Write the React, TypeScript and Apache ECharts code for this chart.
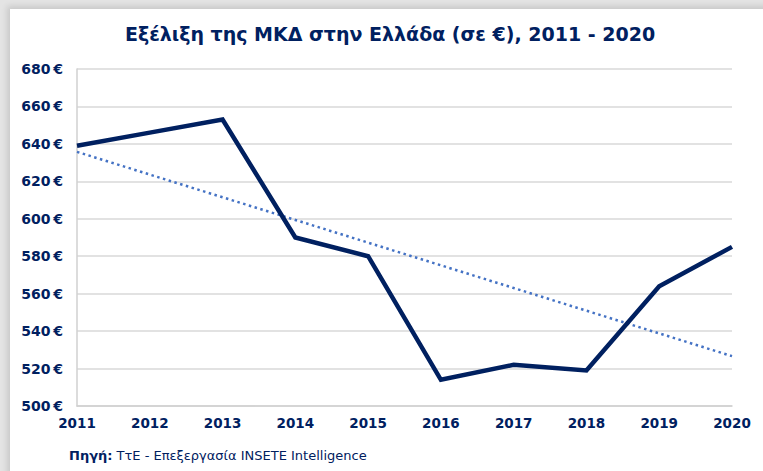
import React, { useEffect, useRef } from "react";
import * as echarts from "echarts";

const years = ["2011", "2012", "2013", "2014", "2015", "2016", "2017", "2018", "2019", "2020"];
const mkdValues = [639, 646, 653, 590, 580, 514, 522, 519, 564, 585];
const yTicks = { min: 500, max: 680, interval: 20 };

const titleText = "Εξέλιξη της ΜΚΔ στην Ελλάδα (σε €), 2011 - 2020";
const sourceLabel = "Πηγή:";
const sourceText = " ΤτΕ - Επεξεργασία INSETE Intelligence";

const NAVY = "#002060";

function linearTrend(values: number[]): number[] {
  const n = values.length;
  const mx = (n - 1) / 2;
  const my = values.reduce((a, b) => a + b, 0) / n;
  let sxy = 0;
  let sxx = 0;
  values.forEach((v, i) => {
    sxy += (i - mx) * (v - my);
    sxx += (i - mx) * (i - mx);
  });
  const slope = sxy / sxx;
  return values.map((_, i) => +(my + slope * (i - mx)).toFixed(2));
}

export default function App() {
  const ref = useRef<HTMLDivElement>(null);

  useEffect(() => {
    document.body.style.margin = "0";
    if (!ref.current) return;
    const chart = echarts.init(ref.current, undefined, { renderer: "svg" });
    const trend = linearTrend(mkdValues);
    chart.setOption({
      animation: false,
      backgroundColor: "transparent",
      title: {
        text: titleText,
        left: 120,
        top: 19,
        textStyle: {
          fontFamily: "DejaVu Sans",
          fontWeight: "bold",
          fontSize: 19,
          color: NAVY,
        },
      },
      grid: { left: 77, right: 31, top: 69, bottom: 65 },
      xAxis: {
        type: "category",
        data: years,
        boundaryGap: false,
        axisTick: { show: false },
        axisLine: { show: true, lineStyle: { color: "#d0d0d0", width: 1.5 } },
        axisLabel: {
          margin: 10,
          color: NAVY,
          fontFamily: "DejaVu Sans",
          fontWeight: "bold",
          fontSize: 13.5,
        },
      },
      yAxis: {
        type: "value",
        min: yTicks.min,
        max: yTicks.max,
        interval: yTicks.interval,
        axisLine: { show: true, lineStyle: { color: "#d0d0d0", width: 1.5 } },
        axisTick: { show: false },
        splitLine: { show: true, lineStyle: { color: "#d9d9d9", width: 1.5 } },
        axisLabel: {
          margin: 14,
          color: NAVY,
          fontFamily: "DejaVu Sans",
          fontWeight: "bold",
          fontSize: 14,
          formatter: (v: number) => `${v}\u202F€`,
        },
      },
      series: [
        {
          name: "Trend",
          type: "line",
          data: trend,
          symbol: "none",
          z: 2,
          lineStyle: { color: "#4472C4", width: 2.5, type: [2.5, 3.5], cap: "butt" },
        },
        {
          name: "ΜΚΔ",
          type: "line",
          data: mkdValues,
          symbol: "none",
          z: 3,
          lineStyle: { color: NAVY, width: 4.5, join: "miter" },
        },
      ],
      graphic: [
        {
          type: "text",
          left: 69,
          top: 449,
          style: {
            text: `{b|${sourceLabel}}{n|${sourceText}}`,
            rich: {
              b: { fontFamily: "DejaVu Sans", fontWeight: "bold", fontSize: 13, fill: NAVY },
              n: { fontFamily: "DejaVu Sans", fontSize: 13, fill: NAVY },
            },
          },
        },
      ],
    });
    return () => chart.dispose();
  }, []);

  return (
    <div style={{ position: "relative", width: 763, height: 471, background: "#e4e4e4", overflow: "hidden" }}>
      <div
        style={{
          position: "absolute",
          left: 10,
          top: 9,
          width: 763,
          height: 471,
          background: "#ffffff",
          boxShadow: "-3px -3px 6px rgba(0,0,0,0.12)",
        }}
      />
      <div ref={ref} style={{ position: "absolute", left: 0, top: 0, width: 763, height: 471 }} />
    </div>
  );
}
